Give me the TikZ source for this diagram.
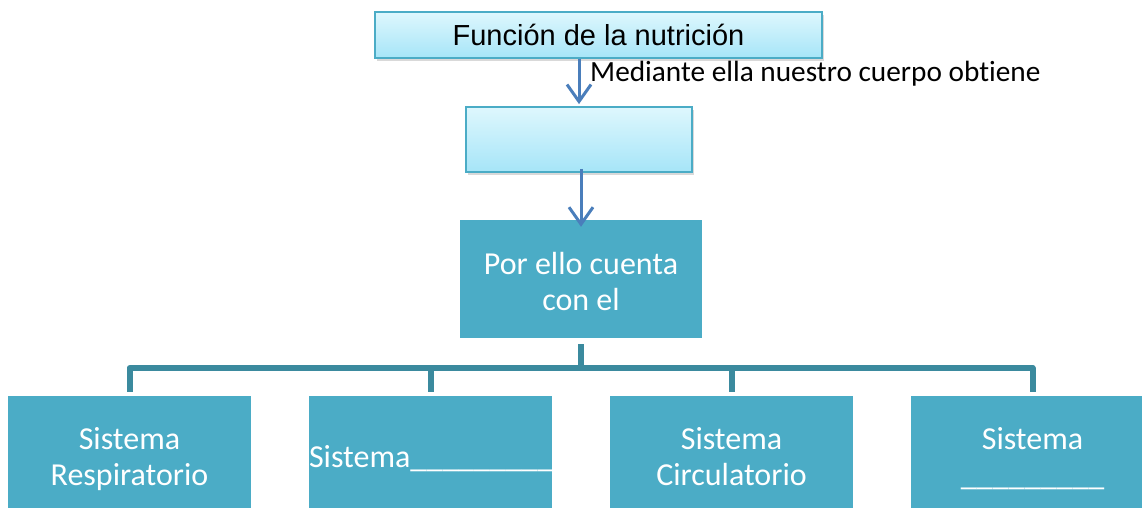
\documentclass[tikz,border=0pt]{standalone}
\usepackage{fontspec}
\setmainfont[Ligatures=NoCommon]{Carlito}
\newfontfamily\arialf{Liberation Sans}
\usetikzlibrary{arrows.meta,shadows}
\definecolor{lightTop}{RGB}{222,247,253}
\definecolor{lightBot}{RGB}{166,229,248}
\definecolor{boxBlue}{RGB}{75,172,198}
\definecolor{connTeal}{RGB}{59,138,158}
\definecolor{arrBlue}{RGB}{74,126,187}
\tikzset{
  lightbox/.style={draw=boxBlue, line width=1.8pt, top color=lightTop, bottom color=lightBot,
    drop shadow={shadow xshift=2pt, shadow yshift=-3pt, opacity=0.3}, inner sep=0pt},
  darkbox/.style={fill=boxBlue, draw=none, text=white, inner sep=0pt, align=center,
    font=\fontsize{32}{36}\selectfont},
  boxtext/.style={text=white, inner sep=0pt, align=center, font=\fontsize{32}{36}\selectfont},
  arr/.style={draw=arrBlue, line width=3pt, -{Straight Barb[length=17pt,width=24pt]}},
  conn/.style={draw=connTeal, line width=6pt, line join=round},
  lbl/.style={font=\fontsize{29.3}{33}\selectfont, inner sep=0pt}
}
\begin{document}
\begin{tikzpicture}[x=1pt,y=-1pt]
\useasboundingbox (0,0) rectangle (1142,508);
% top boxes
\node[lightbox, minimum width=447pt, minimum height=46pt, font=\arialf\fontsize{29}{34}\selectfont]
  (f) at (598.5,35) {Función de la nutrición};
\node[lightbox, minimum width=226pt, minimum height=65pt] (m) at (579,139.5) {};
\node[darkbox, minimum width=242pt, minimum height=118pt] (c) at (581,279) {};
\node[boxtext] (ct) at (581,285) {\strut Por ello cuenta\\con el\strut};
% bottom boxes
\node[darkbox, minimum width=243pt, minimum height=128pt] (a) at (129.5,460) {\strut Sistema\\Respiratorio\strut};
\node[darkbox, minimum width=243pt, minimum height=128pt, text width=243pt, align=left] (b) at (430.5,460) {\strut Sistema\_\_\_\_\_\_\_\_\_};
\node[darkbox, minimum width=243pt, minimum height=128pt] (d) at (731.5,460) {\strut Sistema\\Circulatorio\strut};
\node[darkbox, minimum width=243pt, minimum height=128pt] (e) at (1032.5,460) {\strut Sistema\\\_\_\_\_\_\_\_\_\_\strut};
% arrows
\draw[arr] (m.north |- f.south) -- ([yshift=2pt]m.north);
\node[lbl, anchor=base west] (t) at (590,82) {Mediante ella nuestro cuerpo obtiene};
\draw[arr] ([yshift=4pt]m.south -| c.north) -- ([yshift=-7pt]c.north);
% connectors
\coordinate (bus) at (581,368);
\foreach \n in {a,b,d,e}{
  \draw[conn, shorten <=6pt, shorten >=4pt] (c.south) -- (c.south |- bus) -| (\n.north);
}
\end{tikzpicture}
\end{document}
